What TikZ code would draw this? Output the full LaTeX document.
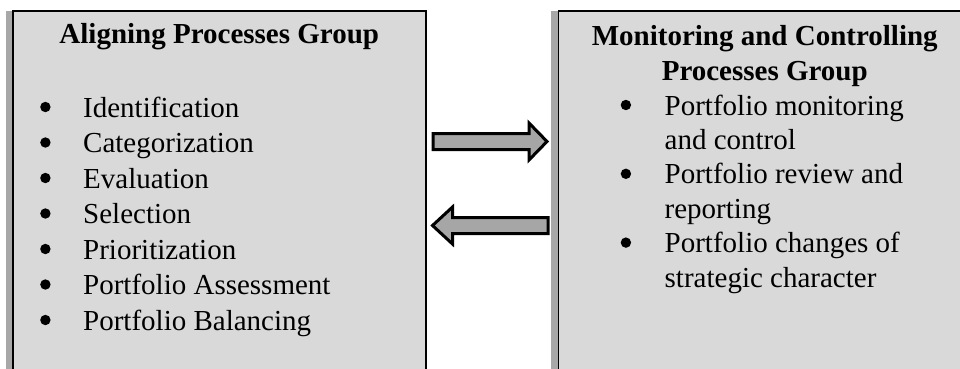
\documentclass[tikz,border=0pt]{standalone}
\usepackage{fontspec}
\setmainfont{Liberation Serif}
\usepackage{xcolor}
\usepackage{tikz}
\usetikzlibrary{positioning}
\usetikzlibrary{calc}
\usetikzlibrary{shadows}

\definecolor{boxgray}{RGB}{217,217,217}
\definecolor{shadegray}{RGB}{168,168,168}
\definecolor{arrowgray}{RGB}{166,166,166}

\newcommand{\groupbullet}{\tikz[baseline=0pt]\fill (5.2pt,10pt) circle (5.2pt);}

\begin{document}
\begin{tikzpicture}[
    x=1pt, y=1pt,
    groupbox/.style={rectangle, draw=black, line width=1.5pt, fill=boxgray, minimum width=413pt, minimum height=380pt, inner sep=0pt, drop shadow={shadow xshift=-7pt, shadow yshift=0pt, fill=shadegray, opacity=1}},
    grouptitle/.style={font=\fontsize{29pt}{35pt}\selectfont\bfseries, inner sep=0pt},
    itemlist/.style={inner sep=0pt},
    blockarrow/.style={draw=black, line width=3pt, fill=arrowgray, miter limit=10}
]
\useasboundingbox (0,0) rectangle (960,-368);
\clip (0,0) rectangle (960,-368);

% the two process groups
\node[groupbox, anchor=north west] (aligning) at (12,-10) {};
\node[groupbox] (monitoring) [right=131pt of aligning.north east, anchor=north west] {};

\node[grouptitle] (aligningtitle) [below=33pt of aligning.north, anchor=base] {Aligning Processes Group};
\node[grouptitle] (monitoringtitle) [below=35pt of monitoring.north, anchor=base] {\begin{tabular}[t]{@{}c@{}}Monitoring and Controlling\\Processes Group\end{tabular}};

\node[itemlist] (aligninglist) [below right=107pt and 28pt of aligning.north west, anchor=base west] {\fontsize{29pt}{35.5pt}\selectfont
\begin{tabular}[t]{@{}p{43pt}@{}l@{}}
\groupbullet & Identification\\
\groupbullet & Categorization\\
\groupbullet & Evaluation\\
\groupbullet & Selection\\
\groupbullet & Prioritization\\
\groupbullet & Portfolio Assessment\\
\groupbullet & Portfolio Balancing
\end{tabular}};

\node[itemlist] (monitoringlist) [below right=105pt and 63pt of monitoring.north west, anchor=base west] {\fontsize{29pt}{34.4pt}\selectfont
\begin{tabular}[t]{@{}p{44pt}@{}l@{}}
\groupbullet & Portfolio monitoring\\
 & and control\\
\groupbullet & Portfolio review and\\
 & reporting\\
\groupbullet & Portfolio changes of\\
 & strategic character
\end{tabular}};

% block arrows between the groups
\coordinate (fwdtail) at ($(aligning.north east)+(6.5,-131.5)$);
\coordinate (fwdtip) at ($(monitoring.north west)+(-10.5,-131.5)$);
\coordinate (backtip) at ($(aligning.north east)+(6,-215.5)$);
\coordinate (backtail) at ($(monitoring.north west)+(-9.5,-215.5)$);

\draw[blockarrow] ($(fwdtail)+(0,8)$) -- ($(fwdtip)+(-18,8)$) -- ($(fwdtip)+(-18,18.5)$) -- (fwdtip)
    -- ($(fwdtip)+(-18,-18.5)$) -- ($(fwdtip)+(-18,-8)$) -- ($(fwdtail)+(0,-8)$) -- cycle;
\draw[blockarrow] ($(backtail)+(0,8)$) -- ($(backtip)+(20,8)$) -- ($(backtip)+(20,18.5)$) -- (backtip)
    -- ($(backtip)+(20,-18.5)$) -- ($(backtip)+(20,-8)$) -- ($(backtail)+(0,-8)$) -- cycle;
\end{tikzpicture}
\end{document}
